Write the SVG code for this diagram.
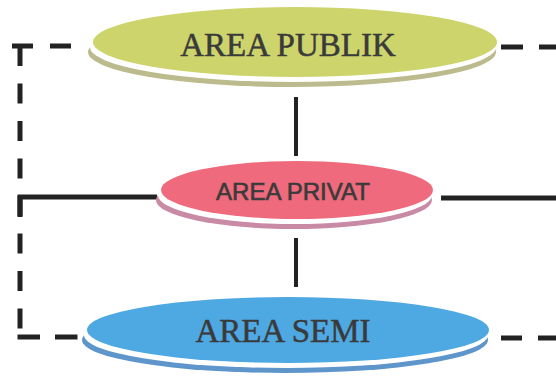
<svg xmlns="http://www.w3.org/2000/svg" width="556" height="387" viewBox="0 0 556 387">
  <style>
    .solid { fill: none; stroke: #222; stroke-width: 5; }
    .thin { fill: none; stroke: #222; stroke-width: 4; }
    .dash { fill: none; stroke: #222; stroke-width: 5; }
    .rimw { fill: #ffffff; }
    .serif { font-family: "Liberation Serif", "Times New Roman", serif; font-size: 33px; fill: #3a3a3a; stroke: #3a3a3a; stroke-width: 0.5; text-anchor: middle; }
    .sans { font-family: "Liberation Sans", Arial, sans-serif; font-size: 24px; fill: #3a3a3a; stroke: #3a3a3a; stroke-width: 0.6; text-anchor: middle; }
  </style>
  <rect width="556" height="387" fill="#ffffff"/>

  <!-- connectors -->
  <g id="connectors">
    <!-- left dashed frame -->
    <path class="dash" d="M 12 46 H 72" stroke-dasharray="21 17"/>
    <path class="dash" d="M 20 46 V 330" stroke-dasharray="20 17.5"/>
    <path class="dash" d="M 17.5 337 H 78" stroke-dasharray="22.5 15"/>
    <!-- right dashed stubs -->
    <path class="dash" d="M 501 47 H 556" stroke-dasharray="22 16"/>
    <path class="dash" d="M 501 338 H 556" stroke-dasharray="21 16"/>
    <!-- solid links -->
    <path class="solid" d="M 157 197 H 20 V 217"/>
    <path class="solid" d="M 441 198 H 556"/>
    <path class="thin" d="M 296 97 V 156"/>
    <path class="thin" d="M 296 238 V 287"/>
  </g>

  <!-- public area -->
  <g id="area-publik">
    <ellipse cx="292" cy="52" rx="204" ry="35" fill="#bcbb8d"/>
    <ellipse class="rimw" cx="293" cy="47" rx="203" ry="35"/>
    <ellipse cx="295" cy="42" rx="202" ry="35" fill="#cdd46c"/>
    <text class="serif" x="288" y="56">AREA PUBLIK</text>
  </g>

  <!-- private area -->
  <g id="area-privat">
    <ellipse cx="294" cy="200" rx="138" ry="29" fill="#c98aa6"/>
    <ellipse class="rimw" cx="295" cy="195" rx="137" ry="29"/>
    <ellipse cx="297" cy="190" rx="136" ry="29" fill="#ee6a7c"/>
    <text class="sans" x="293" y="200">AREA PRIVAT</text>
  </g>

  <!-- semi-public area -->
  <g id="area-semi">
    <ellipse cx="285" cy="340" rx="203" ry="33" fill="#5e96cc"/>
    <ellipse class="rimw" cx="286" cy="335" rx="202" ry="33"/>
    <ellipse cx="288" cy="330" rx="201" ry="33" fill="#4ea8e2"/>
    <text class="serif" x="283" y="342">AREA SEMI</text>
  </g>
</svg>
